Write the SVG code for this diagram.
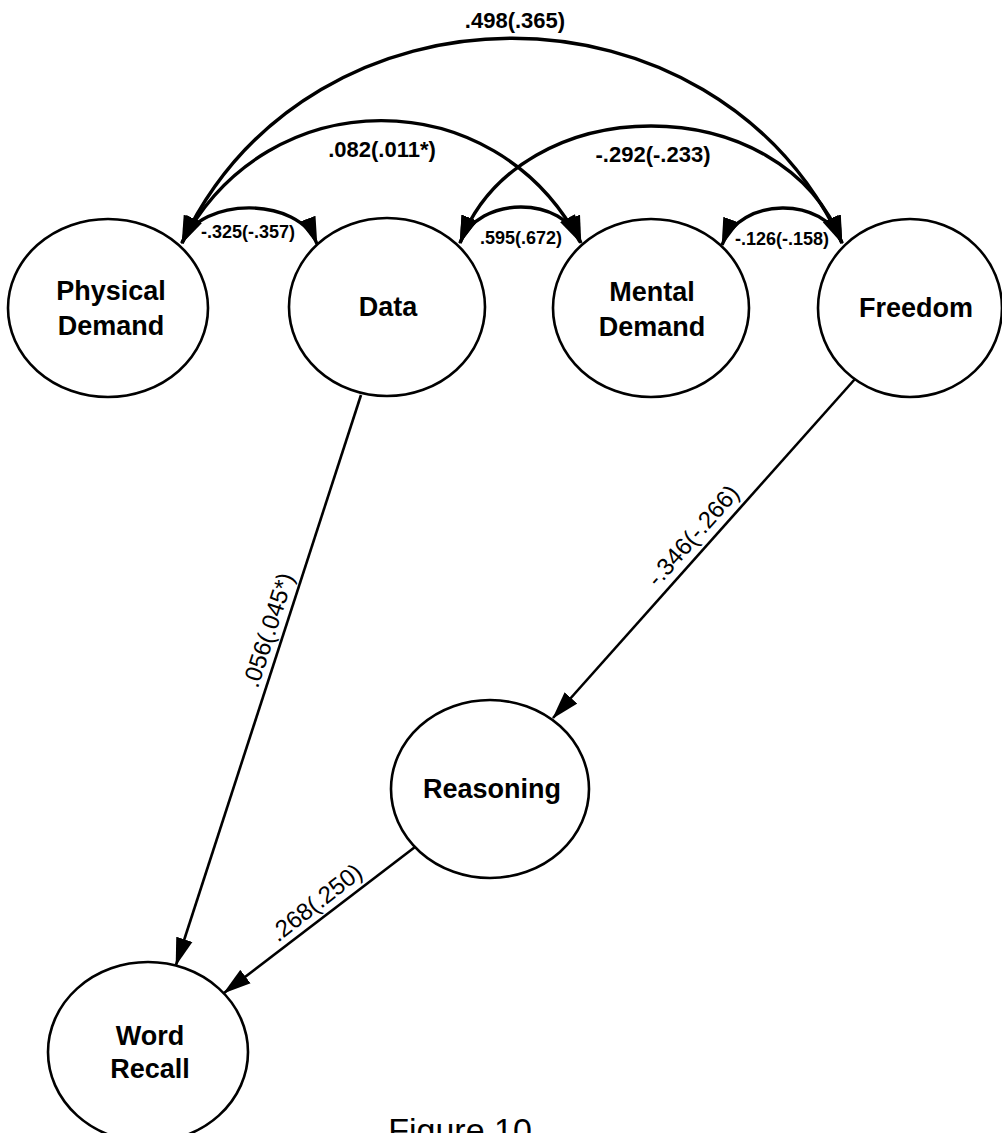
<svg xmlns="http://www.w3.org/2000/svg" width="1002" height="1133" viewBox="0 0 1002 1133">
<style>
.node{fill:#fff;stroke:#000;stroke-width:2.6}
.nt{font-family:"Liberation Sans",Arial,sans-serif;font-weight:bold;font-size:27px;text-anchor:middle;fill:#000}
.arc{fill:none;stroke:#000;stroke-width:3.4}
.ln{fill:none;stroke:#000;stroke-width:2.6}
.lb{font-family:"Liberation Sans",Arial,sans-serif;font-weight:bold;font-size:22px;text-anchor:middle;fill:#000}
.ls{font-family:"Liberation Sans",Arial,sans-serif;font-weight:bold;font-size:18px;text-anchor:middle;fill:#000}
.lr{font-family:"Liberation Sans",Arial,sans-serif;font-size:24px;text-anchor:middle;fill:#000}
.cap{font-family:"Liberation Sans",Arial,sans-serif;font-size:34px;text-anchor:middle;fill:#000}
</style>
<defs>
<marker id="ah" markerUnits="userSpaceOnUse" viewBox="0 0 28 18" markerWidth="28" markerHeight="18" refX="27" refY="9" orient="auto-start-reverse">
<path d="M0,0.5 L28,9 L0,17.5 z" fill="#000"/>
</marker>
</defs>
<rect width="1002" height="1133" fill="#fff"/>
<g id="connectors">
<path class="arc" d="M182,243 C310,-30 714,-30 842,243" marker-start="url(#ah)" marker-end="url(#ah)"/>
<path class="arc" d="M182,243 C267,80 495,80 580,242" marker-start="url(#ah)" marker-end="url(#ah)"/>
<path class="arc" d="M460,243 C519,87 783,87 842,243" marker-start="url(#ah)" marker-end="url(#ah)"/>
<path class="arc" d="M182,243 C200,196 299,196 317,244" marker-start="url(#ah)" marker-end="url(#ah)"/>
<path class="arc" d="M460,243 C478,195 564,195 581,243" marker-start="url(#ah)" marker-end="url(#ah)"/>
<path class="arc" d="M722,245 C740,196 825,196 842,243" marker-start="url(#ah)" marker-end="url(#ah)"/>
<path class="ln" d="M361,395 L176,965" marker-end="url(#ah)"/>
<path class="ln" d="M855,379 L553,718" marker-end="url(#ah)"/>
<path class="ln" d="M415,847 L224,993" marker-end="url(#ah)"/>
<text class="lb" x="515" y="28">.498(.365)</text>
<text class="lb" x="382" y="157">.082(.011*)</text>
<text class="lb" x="653" y="162">-.292(-.233)</text>
<text class="ls" x="248" y="238">-.325(-.357)</text>
<text class="ls" x="521" y="244">.595(.672)</text>
<text class="ls" x="782" y="245">-.126(-.158)</text>
<text class="lr" transform="translate(276,632.6) rotate(-72.1)">.056(.045*)</text>
<text class="lr" transform="translate(699,541) rotate(-48.6)">-.346(-.266)</text>
<text class="lr" transform="translate(321,909) rotate(-38)">.268(.250)</text>
</g>
<g id="physical-demand">
<ellipse class="node" cx="108" cy="308" rx="100" ry="89"/>
<text class="nt" x="111" y="300">Physical</text>
<text class="nt" x="111" y="335">Demand</text>
</g>
<g id="data">
<ellipse class="node" cx="387" cy="307" rx="98" ry="89"/>
<text class="nt" x="388" y="316">Data</text>
</g>
<g id="mental-demand">
<ellipse class="node" cx="651" cy="308" rx="98" ry="89"/>
<text class="nt" x="652" y="301">Mental</text>
<text class="nt" x="652" y="336">Demand</text>
</g>
<g id="freedom">
<ellipse class="node" cx="910" cy="308" rx="92" ry="89"/>
<text class="nt" x="916" y="317">Freedom</text>
</g>
<g id="reasoning">
<ellipse class="node" cx="490" cy="789" rx="99" ry="89"/>
<text class="nt" x="492" y="798">Reasoning</text>
</g>
<g id="word-recall">
<ellipse class="node" cx="148" cy="1052" rx="100" ry="90"/>
<text class="nt" x="150" y="1045">Word</text>
<text class="nt" x="150" y="1078">Recall</text>
</g>
<text class="cap" x="460" y="1142">Figure 10</text>
</svg>
